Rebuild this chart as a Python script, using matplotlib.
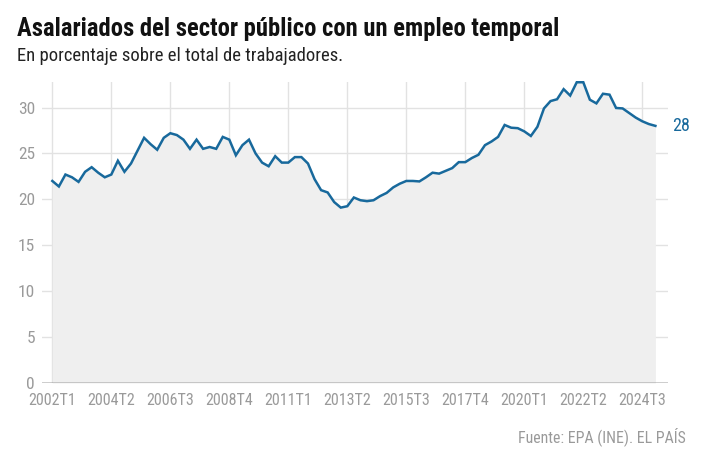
import matplotlib
matplotlib.use("Agg", force=True)

import matplotlib.pyplot as plt
from matplotlib import font_manager

plt.ioff()

# pick a narrow font if one is installed
available = {f.name for f in font_manager.fontManager.ttflist}
narrow = "DejaVu Sans"
for name in ["Liberation Sans Narrow", "DejaVu Sans Condensed", "Roboto Condensed",
             "Open Sans Condensed", "Liberation Sans"]:
    if name in available:
        narrow = name
        break
plt.rcParams["font.family"] = [narrow, "DejaVu Sans"]

# quarterly share of temporary public employees, 2002T1 .. 2025T1
values = [
    22.0, 21.4, 22.7, 22.4, 21.9, 23.0, 23.5, 22.9, 22.4, 22.7,
    24.2, 23.0, 23.9, 25.3, 26.7, 26.0, 25.4, 26.7, 27.2, 27.0,
    26.5, 25.5, 26.5, 25.5, 25.7, 25.5, 26.8, 26.5, 24.8, 25.9,
    26.5, 25.0, 24.0, 23.6, 24.7, 24.0, 24.0, 24.6, 24.6, 23.9,
    22.2, 21.0, 20.75, 19.7, 19.1, 19.25, 20.2, 19.9, 19.8, 19.9,
    20.35, 20.7, 21.3, 21.7, 22.0, 22.0, 21.95, 22.4, 22.9, 22.8,
    23.1, 23.4, 24.05, 24.05, 24.5, 24.85, 25.9, 26.3, 26.8, 28.1,
    27.8, 27.75, 27.4, 26.9, 27.9, 29.9, 30.7, 30.9, 32.0, 31.3,
    32.75, 32.75, 30.85, 30.45, 31.5, 31.4, 29.95, 29.9, 29.4, 28.9,
    28.5, 28.2, 28.0,
]
tick_labels = ["2002T1", "2004T2", "2006T3", "2008T4", "2011T1", "2013T2",
               "2015T3", "2017T4", "2020T1", "2022T2", "2024T3"]
y_ticks = [0, 5, 10, 15, 20, 25, 30]
end_label = "28"

blue = "#18699c"
grey_text = "#9a9a9a"

x = list(range(len(values)))
tick_pos = [i * 9 for i in range(len(tick_labels))]

fig = plt.figure(figsize=(7.21, 4.57), dpi=100)
ax = fig.add_axes([0.0583, 0.162, 0.868, 0.659])

ax.fill_between(x, values, 0, color="#efefef", linewidth=0, zorder=1)
ax.plot(x, values, color=blue, linewidth=1.8, zorder=3, clip_on=False,
        solid_joinstyle="miter")

ax.set_xlim(-1.57, 93.9)
ax.set_ylim(0, 32.8)

ax.set_yticks(y_ticks)
ax.set_xticks(tick_pos)
ax.set_xticklabels(tick_labels)
ax.tick_params(axis="both", length=0, colors=grey_text)
ax.tick_params(axis="y", pad=5, labelsize=12.5)
ax.tick_params(axis="x", pad=7, labelsize=11.5)

ax.grid(True, color="#e2e2e2", linewidth=1.0, zorder=0)
ax.set_axisbelow(True)
for side in ["top", "right", "left", "bottom"]:
    ax.spines[side].set_visible(False)
ax.axhline(0, color="#222222", linewidth=1.0, zorder=4)

ax.annotate(end_label, (x[-1], values[-1]), xytext=(12, 0),
            textcoords="offset points", va="center", ha="left",
            color=blue, fontsize=13, annotation_clip=False)

fig.text(0.024, 0.937, "Asalariados del sector público con un empleo temporal",
         fontsize=17.7, fontweight="bold", color="#111111", va="center")
fig.text(0.024, 0.878, "En porcentaje sobre el total de trabajadores.",
         fontsize=13.4, color="#222222", va="center")
fig.text(0.951, 0.045, "Fuente: EPA (INE). EL PAÍS", fontsize=11.4,
         color=grey_text, ha="right", va="center")

fig.savefig("out.png", dpi=100)
plt.close(fig)
